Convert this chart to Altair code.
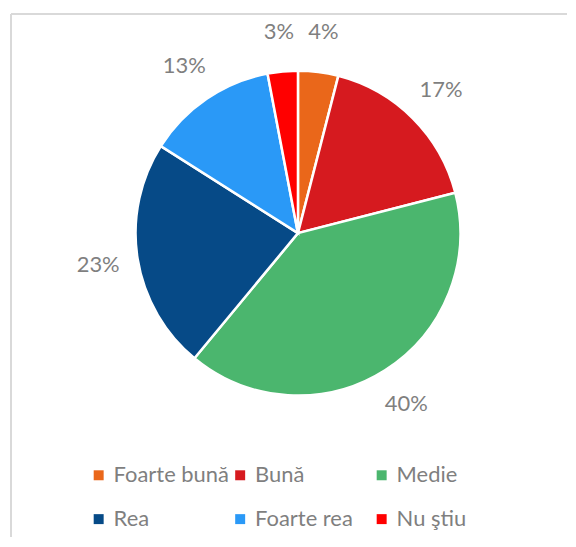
import altair as alt
import pandas as pd

categories = ["Foarte bună", "Bună", "Medie", "Rea", "Foarte rea", "Nu ştiu"]
values = [4, 17, 40, 23, 13, 3]
labels = ["4%", "17%", "40%", "23%", "13%", "3%"]
colors = ["#EA671A", "#D61A1F", "#4BB66E", "#064A87", "#2A99F7", "#FF0000"]

df = pd.DataFrame({
    "cat": categories,
    "val": values,
    "lab": labels,
    "ord": list(range(len(categories))),
})

FONT = "Lato"
W, H = 558, 525
CX, CY = 288, 220

base = alt.Chart(df).encode(
    theta=alt.Theta("val:Q", stack=True),
    order=alt.Order("ord:Q"),
)

pie = base.mark_arc(outerRadius=163, stroke="white", strokeWidth=2.5).encode(
    x=alt.value(CX),
    y=alt.value(CY),
    color=alt.Color(
        "cat:N",
        sort=categories,
        scale=alt.Scale(domain=categories, range=colors),
        legend=alt.Legend(
            title=None,
            orient="none",
            legendX=77,
            legendY=452,
            columns=3,
            direction="horizontal",
            gridAlign="all",
            columnPadding=-5,
            rowPadding=22,
            symbolType="square",
            symbolSize=100,
            symbolStrokeWidth=0,
            labelFont=FONT,
            labelFontSize=22,
            labelColor="#7F7F7F",
            labelOffset=4,
            labelLimit=300,
        ),
    ),
)

text = base.mark_text(radius=203, font=FONT, fontSize=22, color="#7F7F7F").encode(
    x=alt.value(CX),
    y=alt.value(CY),
    text="lab:N",
)

frame_left = alt.Chart(df).mark_rule(color="#D9D9D9", strokeWidth=1.5).encode(
    x=alt.value(0), y=alt.value(0), y2=alt.value(H)
)
frame_top = alt.Chart(df).mark_rule(color="#D9D9D9", strokeWidth=1.5).encode(
    x=alt.value(0), x2=alt.value(W), y=alt.value(0)
)

chart = alt.layer(frame_left, frame_top, pie, text).properties(
    width=W,
    height=H,
    padding={"left": 2, "top": 4, "right": 0, "bottom": 0},
).configure_view(stroke=None)

chart.save("out.html", embed_options={"renderer": "svg", "actions": False})
